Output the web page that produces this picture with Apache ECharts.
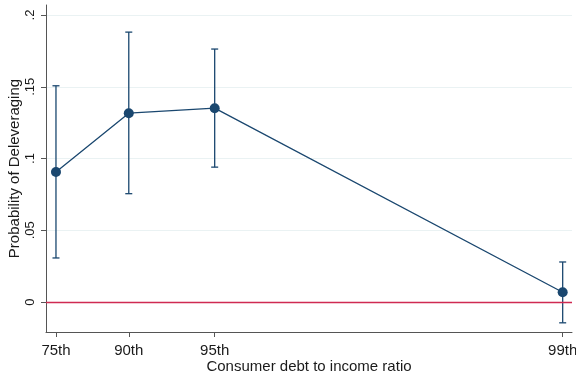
<!DOCTYPE html>
<html>
<head>
<meta charset="utf-8">
<script src="https://cdn.jsdelivr.net/npm/echarts@6/dist/echarts.min.js"></script>
<style>html,body{margin:0;padding:0;background:#fff}#c{width:576px;height:378px}</style>
</head>
<body>
<div id="c"></div>
<script>
// Categories (percentiles of consumer debt-to-income ratio) and their position on the ratio scale
const categories = ['75th', '90th', '95th', '99th'];
const xPositions = [0.5, 1.0, 1.59, 3.98];
// Point estimates and confidence interval bounds
const estimates = [0.0906, 0.1316, 0.1351, 0.0068];
const ciLow = [0.0307, 0.0755, 0.0940, -0.0145];
const ciHigh = [0.1507, 0.1881, 0.1763, 0.0279];
// Y tick values and labels
const yTicks = [0, 0.05, 0.1, 0.15, 0.2];
const yTickLabels = ['0', '.05', '.1', '.15', '.2'];

const navy = '#1a476f';
const font = 'Liberation Sans, Arial, sans-serif';

const lineData = xPositions.map((x, i) => [x, estimates[i]]);
const ciData = xPositions.map((x, i) => [x, ciLow[i], ciHigh[i]]);

const chart = echarts.init(document.getElementById('c'), null, {renderer: 'canvas'});
chart.setOption({
  animation: false,
  backgroundColor: '#ffffff',
  grid: {left: 46, right: 4, top: 5, bottom: 46, containLabel: false, outerBoundsMode: 'none'},
  xAxis: {
    type: 'value',
    min: 0.4315,
    max: 4.044,
    name: 'Consumer debt to income ratio',
    nameLocation: 'middle',
    nameGap: 27,
    nameMoveOverlap: false,
    nameTextStyle: {fontFamily: font, fontSize: 15, color: '#1a1a1a'},
    axisLine: {show: true, onZero: false, lineStyle: {color: '#555', width: 1}},
    axisTick: {show: true, length: 5, customValues: xPositions, lineStyle: {color: '#555'}},
    axisLabel: {
      customValues: xPositions,
      margin: 11,
      hideOverlap: false,
      fontFamily: font, fontSize: 15, color: '#1a1a1a',
      formatter: (v) => { const i = xPositions.findIndex(p => Math.abs(p - v) < 1e-6); return i >= 0 ? categories[i] : ''; }
    },
    splitLine: {show: false}
  },
  yAxis: {
    type: 'value',
    min: -0.0209,
    max: 0.207,
    name: 'Probability of Deleveraging',
    nameLocation: 'middle',
    nameGap: 24,
    nameMoveOverlap: false,
    nameTextStyle: {fontFamily: font, fontSize: 15, color: '#1a1a1a'},
    axisLine: {show: true, onZero: false, lineStyle: {color: '#555', width: 1}},
    axisTick: {show: true, length: 5, customValues: yTicks, lineStyle: {color: '#555'}},
    axisLabel: {
      customValues: yTicks,
      rotate: 90,
      margin: 9,
      hideOverlap: false,
      fontFamily: font, fontSize: 13, color: '#1a1a1a',
      formatter: (v) => { const i = yTicks.findIndex(p => Math.abs(p - v) < 1e-9); return i >= 0 ? yTickLabels[i] : ''; }
    },
    splitLine: {show: true, lineStyle: {color: '#eaf2f3', width: 1}}
  },
  series: [
    {
      type: 'custom',
      z: 3,
      data: ciData,
      renderItem: function (params, api) {
        const x = api.value(0);
        const lo = api.coord([x, api.value(1)]);
        const hi = api.coord([x, api.value(2)]);
        const hw = 3.5;
        const style = {stroke: navy, lineWidth: 1.3, fill: null};
        return {
          type: 'group',
          children: [
            {type: 'line', shape: {x1: lo[0], y1: lo[1], x2: hi[0], y2: hi[1]}, style: style},
            {type: 'line', shape: {x1: lo[0] - hw, y1: lo[1], x2: lo[0] + hw, y2: lo[1]}, style: style},
            {type: 'line', shape: {x1: hi[0] - hw, y1: hi[1], x2: hi[0] + hw, y2: hi[1]}, style: style}
          ]
        };
      }
    },
    {
      type: 'line',
      z: 4,
      data: lineData,
      symbol: 'circle',
      symbolSize: 10,
      lineStyle: {color: navy, width: 1.3},
      itemStyle: {color: navy},
      markLine: {
        silent: true,
        symbol: ['none', 'none'],
        label: {show: false},
        lineStyle: {color: '#cf2a52', width: 1.3, type: 'solid'},
        data: [{yAxis: 0}]
      }
    }
  ]
});
</script>
</body>
</html>
